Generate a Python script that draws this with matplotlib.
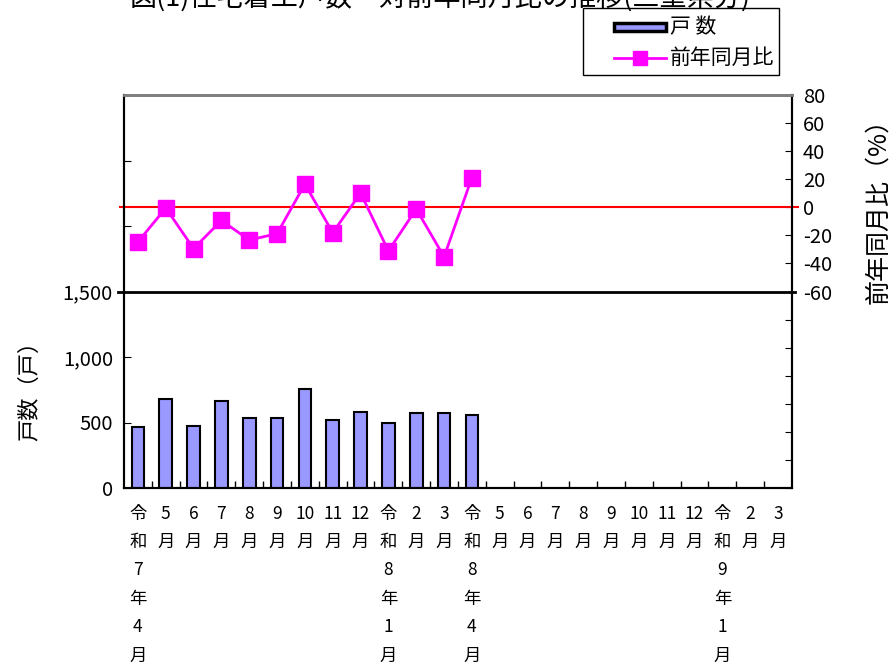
import re
import matplotlib
matplotlib.use("Agg")
import matplotlib.pyplot as plt
from matplotlib.patches import Rectangle
from matplotlib.lines import Line2D

plt.rcParams['font.family'] = ['Noto Sans CJK JP', 'DejaVu Sans']

# ---------------------------------------------------
# DATA
# ---------------------------------------------------

months = ['令和7年4月', '5月', '6月', '7月', '8月', '9月', '10月', '11月', '12月',
          '令和8年1月', '2月', '3月', '令和8年4月', '5月', '6月', '7月', '8月', '9月',
          '10月', '11月', '12月', '令和9年1月', '2月', '3月']

units = [462, 679, 474, 667, 538, 538, 756, 521, 582, 495, 572, 572, 556]
yoy = [-24.7, -0.5, -29.4, -9.4, -23.3, -18.8, 16.5, -18.1, 10.1, -31.1, -1.2, -35.3, 21.2]

left_ticks = [0, 500, 1000, 1500, 2000, 2500, 3000]
left_labels = ['0', '500', '1,000', '1,500', '', '', '']
right_ticks = list(range(-200, 81, 20))
right_labels = [str(v) if v >= -60 else '' for v in right_ticks]

BAR_COLOR = '#9999ff'
LINE_COLOR = '#ff00ff'

# ---------------------------------------------------
# FIGURE
# ---------------------------------------------------

W, H = 890, 668
fig = plt.figure(figsize=(8.9, 6.68), dpi=100)
ax = fig.add_axes([124 / W, 1 - 488 / H, 668 / W, 393 / H])
ax2 = ax.twinx()

x = list(range(len(months)))

ax.bar(range(len(units)), units, width=0.45, color=BAR_COLOR,
       edgecolor='black', linewidth=1.5, zorder=3)
ax.set_xlim(-0.5, len(months) - 0.5)
ax.set_ylim(0, 3000)
ax.set_yticks(left_ticks, left_labels)

# stacked vertical tick labels
def stack(label):
    return '\n'.join(re.findall(r'\d+|.', label))

ax.set_xticks(x, [stack(m) for m in months])
ax.set_xticks([i + 0.5 for i in x[:-1]], minor=True)
ax.tick_params(axis='x', which='major', length=0, pad=12, labelsize=12.5)
ax.tick_params(axis='x', which='minor', length=5, direction='in', width=1)
for t in ax.get_xticklabels():
    t.set_linespacing(1.74)
    t.set_verticalalignment('top')
ax.tick_params(axis='y', direction='in', length=5, labelsize=14.5, pad=8)

ax2.plot(range(len(yoy)), yoy, color=LINE_COLOR, linewidth=2, marker='s',
         markersize=11, zorder=4)
ax2.set_ylim(-200, 80)
ax2.set_yticks(right_ticks, right_labels)
ax2.tick_params(axis='y', direction='in', length=5, labelsize=14.5, pad=8)

# reference lines
ax2.plot([-0.65, 23.7], [0, 0], color='red', linewidth=1.5, clip_on=False, zorder=2)
ax.plot([-0.72, 23.6], [1500, 1500], color='black', linewidth=2, clip_on=False, zorder=2)

for a in (ax, ax2):
    a.spines['top'].set_color('#808080')
    a.spines['top'].set_linewidth(2)
    for s in ('left', 'right', 'bottom'):
        a.spines[s].set_linewidth(1.5)

# ---------------------------------------------------
# TEXT
# ---------------------------------------------------

fig.text(130 / W, 1 + 3 / H, '図(1)住宅着工戸数・対前年同月比の推移(三重県分)',
         fontsize=19.5, va='center', ha='left')
fig.text(30 / W, 1 - 385 / H, '戸数（戸）', rotation=90, fontsize=16,
         va='center', ha='center')
fig.text(878 / W, 1 - 205 / H, '前年同月比（%）', rotation=90, fontsize=18,
         va='center', ha='center')

# ---------------------------------------------------
# LEGEND (drawn by hand to match box layout)
# ---------------------------------------------------

fig.add_artist(Rectangle((583 / W, 1 - 75 / H), 196 / W, 67 / H,
                         transform=fig.transFigure, facecolor='white',
                         edgecolor='black', linewidth=1))
fig.add_artist(Rectangle((614 / W, 1 - 31 / H), 52 / W, 8 / H,
                         transform=fig.transFigure, facecolor=BAR_COLOR,
                         edgecolor='black', linewidth=2.5))
fig.add_artist(Line2D([614 / W, 666 / W], [1 - 58 / H, 1 - 58 / H],
                      transform=fig.transFigure, color=LINE_COLOR, linewidth=2))
fig.add_artist(Line2D([640 / W], [1 - 58 / H], transform=fig.transFigure,
                      color=LINE_COLOR, marker='s', markersize=10))
fig.text(670 / W, 1 - 27 / H, '戸 数', fontsize=15, va='center', ha='left')
fig.text(670 / W, 1 - 58 / H, '前年同月比', fontsize=15, va='center', ha='left')

fig.savefig('out.png', dpi=100)
